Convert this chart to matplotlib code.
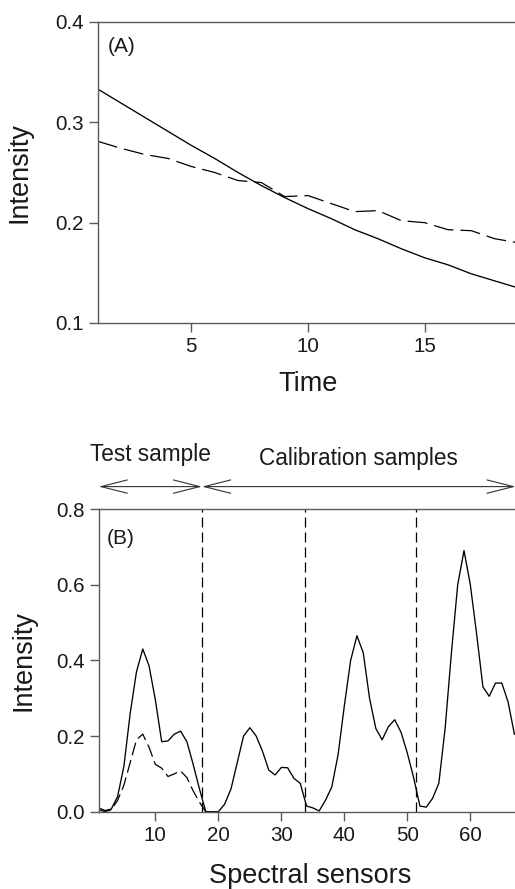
import matplotlib
matplotlib.use("Agg")
import matplotlib.pyplot as plt
import numpy as np

plt.rcParams['font.family'] = ['Liberation Sans', 'DejaVu Sans']

# ---- panel A: intensity vs time ----
time = np.arange(1, 20)
int_solid = [0.333, 0.319, 0.305, 0.291, 0.277, 0.264, 0.250, 0.237, 0.225, 0.214,
             0.204, 0.193, 0.184, 0.174, 0.165, 0.158, 0.149, 0.142, 0.135]
int_dashed = [0.281, 0.274, 0.268, 0.264, 0.256, 0.250, 0.242, 0.240, 0.226, 0.227,
              0.219, 0.211, 0.212, 0.202, 0.200, 0.193, 0.192, 0.184, 0.180]

# ---- panel B: unfolded spectra ----
sensors = np.arange(1, 68)
spec_solid = [0.010, 0.003, 0.007, 0.040, 0.120, 0.260, 0.370, 0.430, 0.385, 0.295,
              0.185, 0.187, 0.205, 0.213, 0.185, 0.125, 0.060, 0.000, 0.000, 0.000,
              0.020, 0.060, 0.130, 0.200, 0.222, 0.200, 0.160, 0.110, 0.097, 0.117,
              0.116, 0.088, 0.075, 0.015, 0.010, 0.002, 0.030, 0.065, 0.150, 0.280,
              0.400, 0.465, 0.420, 0.300, 0.220, 0.190, 0.225, 0.243, 0.210, 0.155,
              0.090, 0.015, 0.012, 0.035, 0.075, 0.220, 0.420, 0.600, 0.690, 0.600,
              0.470, 0.330, 0.305, 0.340, 0.340, 0.290, 0.205]
test_sensors = np.arange(1, 19)
spec_dashed = [0.005, 0.000, 0.005, 0.030, 0.070, 0.130, 0.190, 0.205, 0.170, 0.125,
               0.115, 0.093, 0.100, 0.108, 0.090, 0.055, 0.025, 0.000]
boundaries = [17.4, 33.8, 51.3]
test_span = (1, 17.4)
calib_span = (17.4, 67.2)

spine_col = '#5a5a5a'
txt_col = '#1a1a1a'


def style_axes(ax):
    ax.spines['right'].set_visible(False)
    for s in ('left', 'top', 'bottom'):
        ax.spines[s].set_color(spine_col)
        ax.spines[s].set_linewidth(1.0)
    ax.tick_params(direction='out', length=6.5, width=1.0, color=spine_col,
                   labelsize=14.8, labelcolor=txt_col, pad=3.5)


fig = plt.figure(figsize=(5.15, 8.89), dpi=100)

axA = fig.add_axes([98 / 515, 1 - 323 / 889, 420 / 515, 301 / 889])
axA.plot(time, int_solid, color='black', lw=0.95)
lA, = axA.plot(time, int_dashed, color='black', lw=0.9)
lA.set_dashes([16, 5.6])
axA.set_xlim(1, 19)
axA.set_ylim(0.1, 0.4)
axA.set_xticks([5, 10, 15])
axA.set_yticks([0.1, 0.2, 0.3, 0.4])
axA.yaxis.set_major_formatter(matplotlib.ticker.FormatStrFormatter('%.1f'))
style_axes(axA)
axA.set_xlabel('Time', fontsize=19.5, color=txt_col, labelpad=11)
axA.set_ylabel('Intensity', fontsize=19.5, color=txt_col)
axA.yaxis.set_label_coords(-0.155, 0.5)
axA.text(0.024, 0.917, '(A)', transform=axA.transAxes, fontsize=15,
         color=txt_col, va='center', ha='left')

axB = fig.add_axes([98.7 / 515, 1 - 811.7 / 889, 422 / 515, 302.7 / 889])
axB.plot(sensors, spec_solid, color='black', lw=0.95)
lB, = axB.plot(test_sensors, spec_dashed, color='black', lw=0.9)
lB.set_dashes([10.4, 4])
for b in boundaries:
    vl = axB.axvline(b, color='black', lw=0.9)
    vl.set_dashes([8, 4])
axB.set_xlim(1, 68)
axB.set_ylim(0.0, 0.8)
axB.set_xticks([10, 20, 30, 40, 50, 60])
axB.set_yticks([0.0, 0.2, 0.4, 0.6, 0.8])
axB.yaxis.set_major_formatter(matplotlib.ticker.FormatStrFormatter('%.1f'))
style_axes(axB)
axB.set_xlabel('Spectral sensors', fontsize=19.5, color=txt_col, labelpad=13)
axB.set_ylabel('Intensity', fontsize=19.5, color=txt_col)
axB.yaxis.set_label_coords(-0.148, 0.5)
axB.text(0.02, 0.904, '(B)', transform=axB.transAxes, fontsize=15,
         color=txt_col, va='center', ha='left')

# double-headed arrows marking the sample groups
arrow_y = 1.074
for span in (test_span, calib_span):
    axB.annotate('', xy=(span[1], arrow_y), xytext=(span[0], arrow_y),
                 xycoords=('data', 'axes fraction'), textcoords=('data', 'axes fraction'),
                 annotation_clip=False,
                 arrowprops=dict(arrowstyle='<->, head_length=1.9, head_width=0.48',
                                 color='#333333', lw=0.8, mutation_scale=10,
                                 shrinkA=0, shrinkB=0))
axB.text(np.mean(test_span), 1.1596, 'Test sample', transform=axB.get_xaxis_transform(),
         fontsize=16.3, color=txt_col, ha='center', va='baseline')
axB.text(np.mean(calib_span), 1.145, 'Calibration samples', transform=axB.get_xaxis_transform(),
         fontsize=16.3, color=txt_col, ha='center', va='baseline')

fig.savefig('out.png', dpi=100)
